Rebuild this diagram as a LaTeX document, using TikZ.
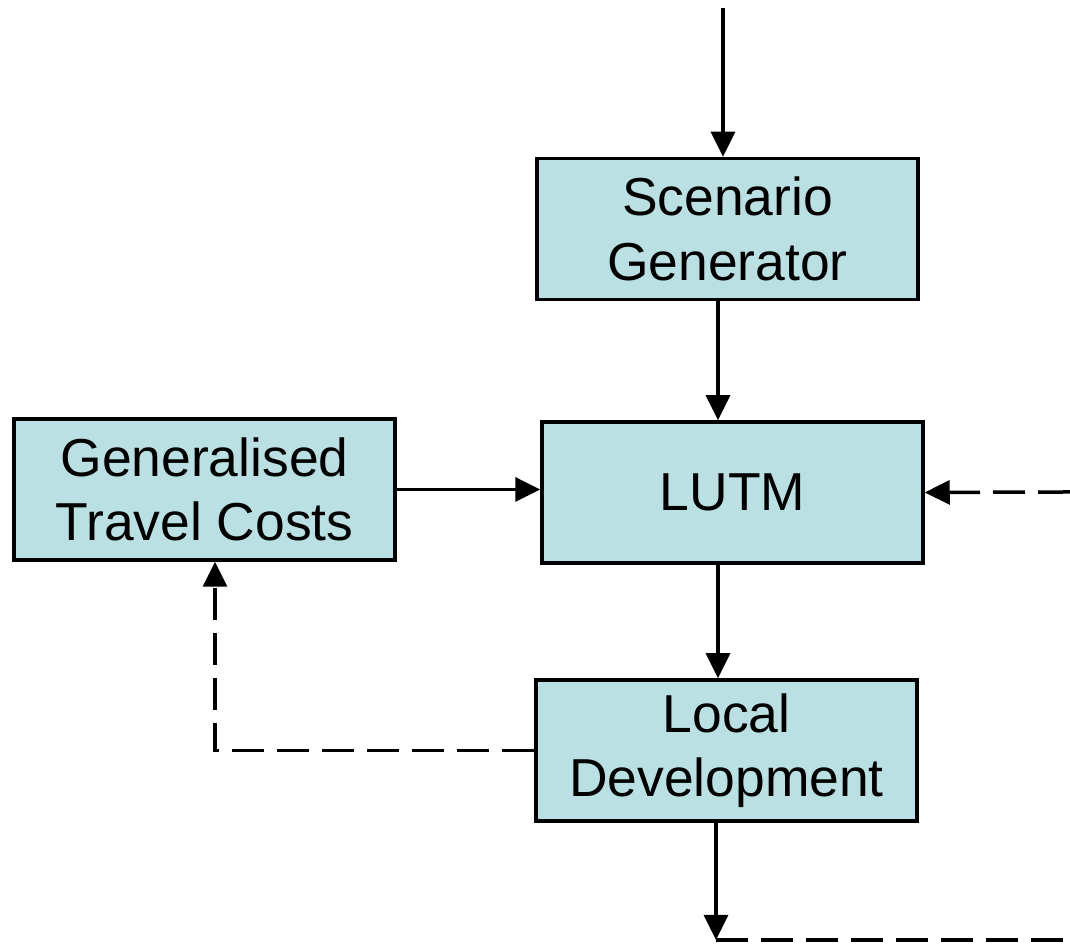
\documentclass[tikz,border=0pt]{standalone}
\usepackage{fontspec}
\setmainfont{Liberation Sans}
\usetikzlibrary{arrows.meta}
\definecolor{boxblue}{HTML}{BBE0E3}
\tikzset{
  block/.style={draw, line width=0.035cm, fill=boxblue, minimum width=3.81cm,
    minimum height=1.41cm, inner sep=0pt, align=center,
    font=\fontsize{15.2}{18.3}\selectfont},
  flow/.style={line width=0.035cm, -{Triangle[length=0.25cm,width=0.24cm]}},
  feedback/.style={flow, dash pattern=on 0.32cm off 0.13cm},
}
\begin{document}
\begin{tikzpicture}
\useasboundingbox (0,0) rectangle (10.70,9.45);
\node[block] (scen) at (7.275, 7.16) {Scenario\\Generator};
\node[block] (lutm) at (7.325, 4.525) {LUTM};
\node[block] (gtc) at (2.045, 4.555) {Generalised\\Travel Costs};
\node[block] (local) at (7.265, 1.945) {Local\\Development};
\coordinate (in) at (7.23, 9.37);
\coordinate (rin) at (10.70, 4.53);
\coordinate (out) at (7.16, 0.05);
\coordinate (rout) at (10.70, 0.05);
% main chain
\draw[flow] (in) -- (in |- scen.north);
\draw[flow] ([xshift=-0.095cm]scen.south) -- ([xshift=-0.095cm]scen.south |- lutm.north);
\draw[flow] (gtc.east) -- (gtc.east -| lutm.west);
\draw[flow] ([xshift=-0.145cm]lutm.south) -- ([xshift=-0.145cm]lutm.south |- local.north);
\draw[flow] (out |- local.south) -- (out);
% feedback loops
\draw[feedback] (rin) -- (lutm.east);
\draw[feedback] (local.west) -| ([xshift=0.105cm]gtc.south);
\draw[line width=0.035cm, dash pattern=on 0.32cm off 0.13cm] (out) -- (rout);
\end{tikzpicture}
\end{document}
